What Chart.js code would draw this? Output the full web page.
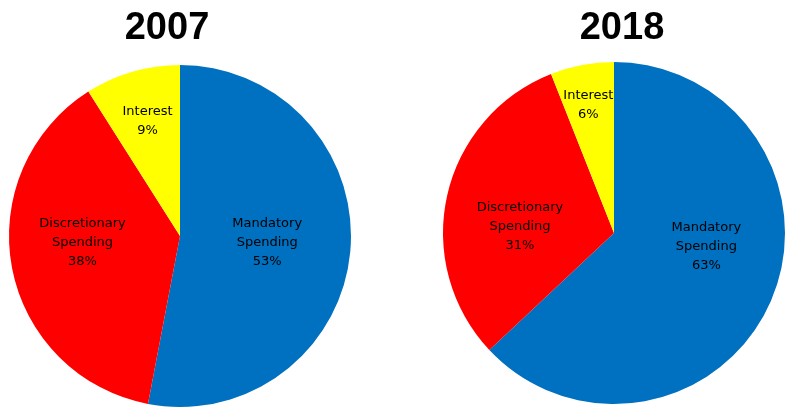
<!DOCTYPE html>
<html>
<head>
<meta charset="utf-8">
<script src="https://cdn.jsdelivr.net/npm/chart.js@4.4.0/dist/chart.umd.min.js"></script>
<style>
  html, body { margin: 0; padding: 0; background: #fff; }
  body { width: 786px; height: 408px; position: relative; overflow: hidden; }
  .pie { position: absolute; top: 0; height: 408px; }
  #pie2007 { left: -20px; width: 374px; }
  #pie2018 { left: 442px; width: 360px; }
</style>
</head>
<body>
<canvas id="pie2007" class="pie" width="374" height="408"></canvas>
<canvas id="pie2018" class="pie" width="360" height="408"></canvas>
<script>
// Budget share pies, 2007 vs 2018

const categories = ['Mandatory Spending', 'Discretionary Spending', 'Interest'];
const labelLines = [['Mandatory', 'Spending'], ['Discretionary', 'Spending'], ['Interest']];
const values2007 = [53, 38, 9];
const values2018 = [63, 31, 6];
const colors = ['#0070C0', '#FF0000', '#FFFF00'];

// label anchors, relative to pie centre in units of the radius
const labelPos2007 = [[0.51, 0.04], [-0.57, 0.04], [-0.19, -0.67]];
const labelPos2018 = [[0.54, 0.08], [-0.55, -0.035], [-0.15, -0.75]];

const sliceLabels = {
    id: 'sliceLabels',
    afterDatasetsDraw(chart, args, opts) {
        const ctx = chart.ctx;
        const meta = chart.getDatasetMeta(0);
        const values = chart.data.datasets[0].data;
        ctx.save();
        ctx.fillStyle = '#000';
        ctx.textAlign = 'center';

        // year title, drawn off-centre like the original
        ctx.font = 'bold 38px "Liberation Sans", Arial, sans-serif';
        ctx.textBaseline = 'alphabetic';
        ctx.fillText(opts.title, meta.data[0].x + opts.titleDx, 39);

        ctx.font = '13px "DejaVu Sans"';
        ctx.textBaseline = 'middle';
        meta.data.forEach((arc, i) => {
            const r = arc.outerRadius;
            const cx = arc.x + opts.pos[i][0] * r;
            const cy = arc.y + opts.pos[i][1] * r;
            const lines = labelLines[i].concat([values[i] + '%']);
            const lh = 19;
            lines.forEach((t, j) => {
                ctx.fillText(t, cx, cy + (j - (lines.length - 1) / 2) * lh);
            });
        });
        ctx.restore();
    }
};

function makePie(id, year, values, pos, padding, titleDx) {
    return new Chart(document.getElementById(id), {
        type: 'pie',
        data: {
            labels: categories,
            datasets: [{
                data: values,
                backgroundColor: colors,
                borderWidth: 0
            }]
        },
        options: {
            responsive: false,
            animation: false,
            layout: { padding: padding },
            plugins: {
                legend: { display: false },
                tooltip: { enabled: false },
                title: { display: false },
                sliceLabels: { pos: pos, title: year, titleDx: titleDx }
            }
        },
        plugins: [sliceLabels]
    });
}

makePie('pie2007', '2007', values2007, labelPos2007, { left: 29, right: 3, top: 65, bottom: 1 }, -13);
makePie('pie2018', '2018', values2018, labelPos2018, { left: 1, right: 17, top: 62, bottom: 4 }, 8);
</script>
</body>
</html>
